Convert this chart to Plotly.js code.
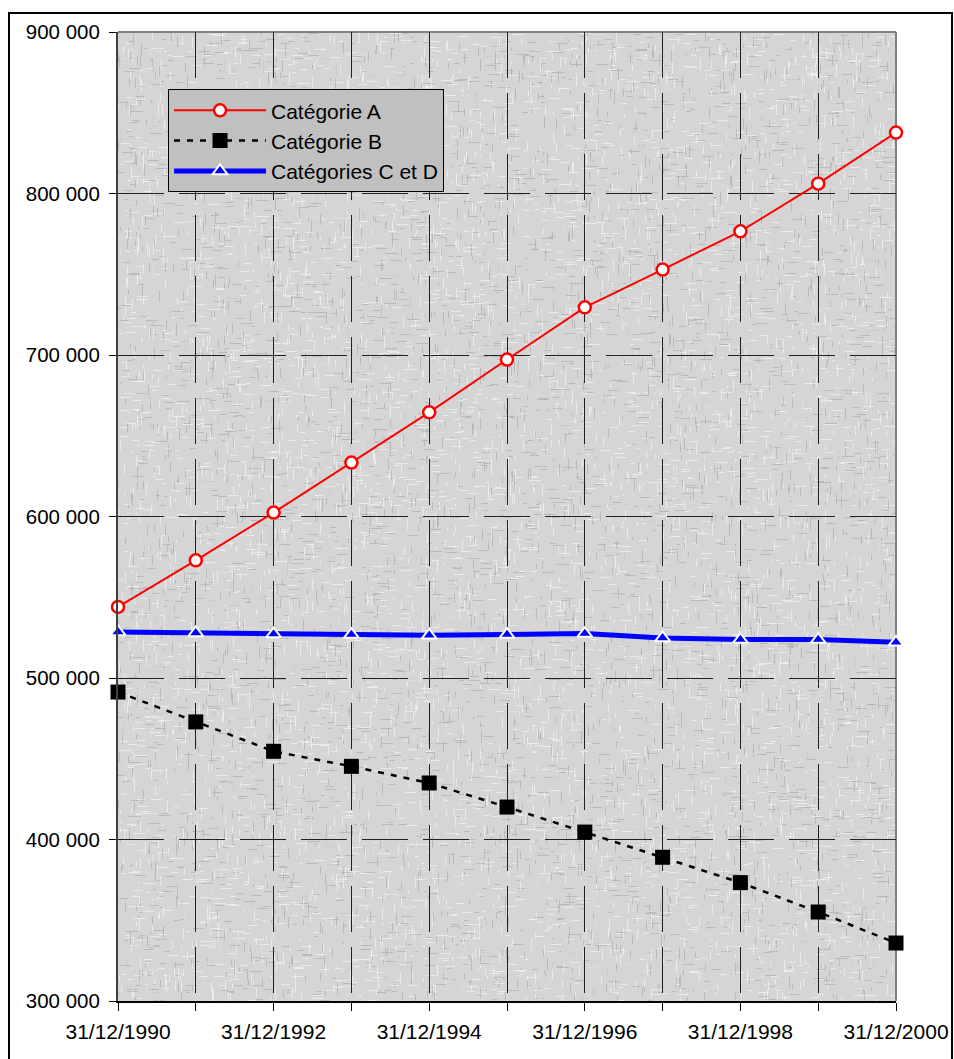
<!DOCTYPE html>
<html>
<head>
<meta charset="utf-8">
<script src="https://cdn.plot.ly/plotly-3.0.1.min.js"></script>
<style>
  html, body { margin: 0; padding: 0; background: #ffffff; overflow: hidden; }
  #chart { width: 954px; height: 1059px; position: absolute; left: 0; top: 0; }
  #frame { position: absolute; left: 8px; top: 12px; width: 941px; height: 1100px;
           border: 2px solid #000; pointer-events: none; }
</style>
</head>
<body>
<div id="chart"></div>
<div id="frame"></div>
<script>
// ---- data ----
const dates = ['31/12/1990','31/12/1991','31/12/1992','31/12/1993','31/12/1994','31/12/1995',
               '31/12/1996','31/12/1997','31/12/1998','31/12/1999','31/12/2000'];
const catA  = [544000, 572900, 602400, 633400, 664500, 697200, 729500, 752900, 776600, 806100, 837700];
const catB  = [491300, 472800, 454600, 445300, 435000, 420100, 404600, 389000, 373300, 355100, 335900];
const catCD = [528500, 527900, 527200, 526900, 526400, 526900, 527500, 524800, 523800, 523800, 522100];
const seriesNames = ['Catégorie A', 'Catégorie B', 'Catégories C et D'];
const yTicks = [300000, 400000, 500000, 600000, 700000, 800000, 900000];
const xTickText = dates.map((d, i) => (i % 2 === 0 ? d : ''));

const FONT = 'Liberation Sans, Arial, sans-serif';

// decorative canvas texture for the plot background (deterministic, not data)
function makeTexture(w, h) {
  const c = document.createElement('canvas');
  c.width = w; c.height = h;
  const g = c.getContext('2d');
  g.fillStyle = '#d5d5d5';
  g.fillRect(0, 0, w, h);
  let s = 12345;
  const rnd = () => { s = (s * 1103515245 + 12345) & 0x7fffffff; return s / 0x7fffffff; };
  const n = Math.floor(w * h / 14);
  for (let i = 0; i < n; i++) {
    const x = Math.floor(rnd() * w), y = Math.floor(rnd() * h);
    const len = 3 + Math.floor(rnd() * 10);
    const light = rnd() < 0.55;
    g.fillStyle = light ? 'rgba(238,238,238,0.30)' : 'rgba(180,180,180,0.25)';
    if (rnd() < 0.5) g.fillRect(x, y, len, 1); else g.fillRect(x, y, 1, len);
  }
  return c.toDataURL('image/png');
}

const traces = [
  {
    x: dates, y: catA, name: seriesNames[0], type: 'scatter', mode: 'lines+markers',
    line: { color: '#ff0000', width: 2 },
    marker: { symbol: 'circle', size: 12, color: '#ffffff', line: { color: '#ff0000', width: 2.5 } },
    cliponaxis: false, legendgroup: 'a'
  },
  {
    x: dates, y: catB, name: seriesNames[1], type: 'scatter', mode: 'lines+markers',
    line: { color: '#000000', width: 2.5, dash: '6px,7px' },
    marker: { symbol: 'square', size: 15, color: '#000000', line: { width: 0 } },
    cliponaxis: false, legendgroup: 'b'
  },
  {
    x: dates, y: catCD, name: seriesNames[2], type: 'scatter', mode: 'lines+markers',
    line: { color: '#0000ff', width: 5 },
    marker: { symbol: 'triangle-up', size: 13, color: '#0000ff', line: { color: '#ffffff', width: 2 } },
    cliponaxis: false, legendgroup: 'c'
  }
];

const layout = {
  width: 954, height: 1059,
  margin: { l: 118, r: 58, t: 32, b: 58, pad: 0 },
  paper_bgcolor: '#ffffff',
  plot_bgcolor: '#d4d4d4',
  separators: ', ',
  font: { family: FONT, color: '#000000', size: 20 },
  showlegend: true,
  legend: {
    x: 0.0643, y: 0.941, xanchor: 'left', yanchor: 'top',
    bgcolor: '#c0c0c0', bordercolor: '#000000', borderwidth: 1,
    font: { family: FONT, size: 21, color: '#000000' },
    itemwidth: 92, tracegroupgap: 6, traceorder: 'normal'
  },
  xaxis: {
    type: 'category', range: [0, 10], fixedrange: true,
    tickmode: 'array', tickvals: dates, ticktext: xTickText,
    ticks: 'outside', ticklen: 8, tickwidth: 1, tickcolor: '#000000',
    tickfont: { family: FONT, size: 21, color: '#000000' },
    ticklabelstandoff: 3,
    showgrid: true, gridcolor: '#222222', gridwidth: 1, griddash: '46px,15px',
    showline: true, linecolor: '#000000', linewidth: 2,
    zeroline: false
  },
  yaxis: {
    range: [300000, 900000], fixedrange: true,
    tickmode: 'array', tickvals: yTicks, tickformat: ',.0f',
    ticks: 'outside', ticklen: 7, tickwidth: 1, tickcolor: '#000000',
    tickfont: { family: FONT, size: 20.5, color: '#000000' },
    ticklabelstandoff: 5,
    showgrid: true, gridcolor: '#222222', gridwidth: 1, griddash: '46px,15px',
    showline: true, linecolor: '#404040', linewidth: 2,
    zeroline: false
  },
  images: [{
    source: makeTexture(778, 969), xref: 'paper', yref: 'paper',
    x: 0, y: 1, sizex: 1, sizey: 1, xanchor: 'left', yanchor: 'top',
    sizing: 'stretch', layer: 'below'
  }],
  shapes: [
    { type: 'line', xref: 'paper', yref: 'paper', x0: 0, x1: 1, y0: 1, y1: 1,
      line: { color: '#808080', width: 2 }, layer: 'between' },
    { type: 'line', xref: 'paper', yref: 'paper', x0: 1, x1: 1, y0: 0, y1: 1,
      line: { color: '#808080', width: 2 }, layer: 'between' }
  ]
};

Plotly.newPlot('chart', traces, layout, { displayModeBar: false, staticPlot: true });
</script>
</body>
</html>
